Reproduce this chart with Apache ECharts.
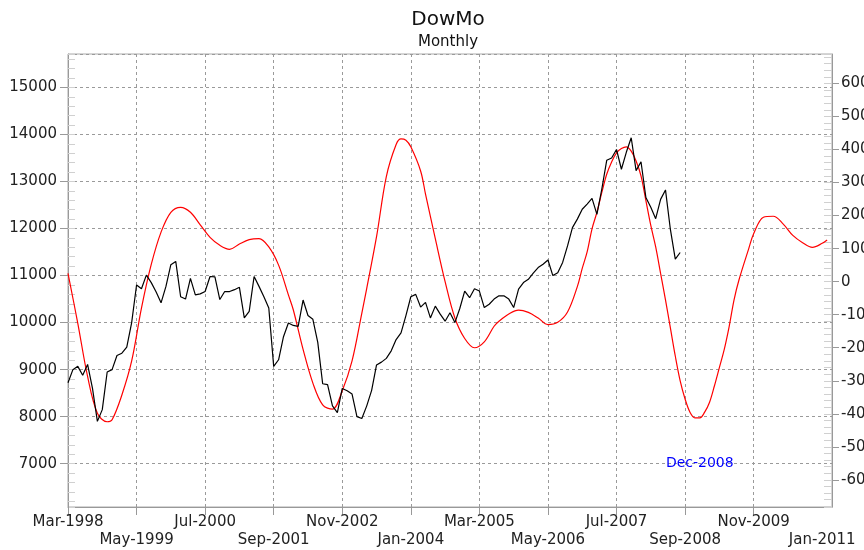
<!DOCTYPE html>
<html>
<head>
<meta charset="utf-8">
<script src="https://cdn.jsdelivr.net/npm/echarts@6/dist/echarts.min.js"></script>
<style>html,body{margin:0;padding:0;background:#fff;}#c{width:864px;height:550px;}</style>
</head>
<body>
<div id="c"></div>
<script>
// ---- data ----
const monthNames = ['Jan','Feb','Mar','Apr','May','Jun','Jul','Aug','Sep','Oct','Nov','Dec'];
const startYear = 1998, startMonth = 2, monthCount = 157; // Mar-1998 .. Mar-2011
const categories = [];
for (let k = 0; k < monthCount; k++) {
  const m = (startMonth + k) % 12, y = startYear + Math.floor((startMonth + k) / 12);
  categories.push(monthNames[m] + '-' + y);
}
const labelStep = 14; // a tick label every 14 months, alternating rows
const titleText = 'DowMo';
const subtitleText = 'Monthly';
const annotationText = 'Dec-2008';
const annotationValue = 7000;

// Dow monthly (left axis), Mar-1998 onward
const dowValues = [
 8720,9000,9070,8880,9110,8600,7900,8150,8950,9000,
 9300,9350,9480,10000,10800,10720,11010,10850,10650,10420,
 10770,11230,11300,10550,10500,10940,10590,10610,10660,10980,
 10970,10490,10660,10660,10700,10750,10100,10240,10980,10770,
 10550,10310,9070,9210,9700,9990,9940,9920,10480,10150,
 10070,9580,8700,8680,8230,8085,8600,8550,8480,8000,
 7960,8230,8560,9100,9160,9240,9400,9640,9780,10150,
 10550,10600,10330,10430,10100,10350,10180,10030,10210,10000,
 10300,10670,10530,10720,10670,10320,10390,10500,10570,10570,
 10500,10320,10710,10850,10920,11050,11170,11240,11330,11000,
 11060,11280,11630,12020,12200,12410,12520,12640,12300,12840,
 13450,13500,13680,13260,13620,13930,13230,13420,12660,12450,
 12210,12620,12820,11980,11350,11490
];

// Momentum oscillator (right axis): [month index, value]
const momentumPoints = [
 [0,25],[2,-126],[4,-287],[6,-398],[8,-424],[9,-418],[11,-343],[13,-240],[15,-80],[17,52],
 [19,150],[21,210],[23,225],[25,210],[27,172],[29,134],[31,110],[33,98],[35,114],[37,127],
 [39,130],[41,105],[43,50],[45,-40],[46,-85],[48,-205],[50,-307],[52,-373],[54,-386],[56,-330],
 [58,-240],[60,-95],[61,-20],[63,136],[65,318],[67,415],[68,432],[69,428],[70,408],[72,335],
 [73,265],[75,130],[77,0],[79,-110],[81,-172],[83,-200],[85,-182],[87,-135],[88,-120],[90,-98],
 [92,-86],[94,-93],[96,-110],[98,-130],[100,-123],[102,-92],[104,-15],[105,40],[106,90],[107,160],
 [108,210],[109,270],[110,325],[111,362],[112,390],[113,403],[114,408],[115,395],[116,365],[117,320],
 [118,245],[119,170],[120,105],[121,25],[122,-55],[123,-140],[124,-225],[125,-300],[126,-355],[127,-395],
 [128,-412],[129,-412],[130,-395],[131,-365],[132,-315],[133,-260],[134,-205],[135,-136],[136,-55],[137,5],
 [139,100],[140,145],[142,195],[144,198],[146,175],[148,140],[150,118],[152,104],[154,116],[155,126]
];

const leftMin = 6080, leftMax = 15710;
const rightMin = -682, rightMax = 689;

// ---- chart ----
const FONT = 'DejaVu Sans';
const chart = echarts.init(document.getElementById('c'), null, {renderer: 'canvas'});
const axisGray = '#999999';
const gridDash = {color: '#9a9a9a', type: [3, 3], width: 1};
const plain = function (v) { return String(v); };
const labelBase = {fontSize: 15, fontFamily: FONT, color: '#222', lineHeight: 15,
                   showMinLabel: true, showMaxLabel: true, hideOverlap: false};
// ticks and vertical grid lines at the labelled months, except the last one near the edge
const gridMonth = function (idx) { return idx % labelStep === 0 && idx + labelStep < monthCount; };

chart.setOption({
  animation: false,
  backgroundColor: '#ffffff',
  graphic: [
    {type: 'text', x: 448, y: 20, style: {text: titleText, align: 'center', verticalAlign: 'middle', fontSize: 20, fontFamily: FONT, fill: '#111'}},
    {type: 'text', x: 448, y: 42, style: {text: subtitleText, align: 'center', verticalAlign: 'middle', fontSize: 15, fontFamily: FONT, fill: '#111'}}
  ],
  grid: {left: 68, right: 32, top: 54, bottom: 43, show: true, borderColor: '#aaaaaa', borderWidth: 1,
         containLabel: false, outerBoundsMode: 'none'},
  xAxis: [
    { type: 'category', data: categories, boundaryGap: false, position: 'bottom',
      axisLine: {onZero: false, lineStyle: {color: axisGray}},
      axisTick: {show: true, interval: gridMonth, length: 8, lineStyle: {color: axisGray}},
      splitLine: {show: true, interval: gridMonth, lineStyle: gridDash},
      axisLabel: Object.assign({}, labelBase, {margin: 8,
        interval: function (idx) { return idx % (2 * labelStep) === 0; }}) },
    { type: 'category', data: categories, boundaryGap: false, position: 'bottom',
      axisLine: {show: false, onZero: false}, axisTick: {show: false}, splitLine: {show: false},
      axisLabel: Object.assign({}, labelBase, {margin: 26,
        interval: function (idx) { return idx % (2 * labelStep) === labelStep; }}) }
  ],
  yAxis: [
    { type: 'value', position: 'left', min: leftMin, max: leftMax, splitNumber: 10, minInterval: 1000, maxInterval: 1000,
      axisLine: {show: true, lineStyle: {color: axisGray}},
      axisTick: {show: true, length: 8, lineStyle: {color: axisGray}},
      axisLabel: {margin: 11, fontSize: 15, fontFamily: FONT, color: '#222', showMinLabel: false, showMaxLabel: false, formatter: plain},
      splitLine: {show: true, lineStyle: gridDash} },
    { type: 'value', position: 'right', min: rightMin, max: rightMax, splitNumber: 14, minInterval: 100, maxInterval: 100,
      axisLine: {show: true, lineStyle: {color: axisGray}},
      axisTick: {show: true, length: 7, lineStyle: {color: axisGray}},
      axisLabel: {margin: 9, fontSize: 15, fontFamily: FONT, color: '#222', showMinLabel: false, showMaxLabel: false, formatter: plain},
      splitLine: {show: false} },
    { type: 'value', position: 'left', min: leftMin, max: leftMax, minInterval: 200, maxInterval: 200, splitNumber: 48,
      axisLine: {show: false}, axisLabel: {show: false}, splitLine: {show: false},
      axisTick: {show: true, inside: true, length: 7, lineStyle: {color: '#d0d0d0'}} },
    { type: 'value', position: 'right', min: rightMin, max: rightMax, minInterval: 20, maxInterval: 20, splitNumber: 68,
      axisLine: {show: false}, axisLabel: {show: false}, splitLine: {show: false},
      axisTick: {show: true, inside: true, length: 8, lineStyle: {color: '#d0d0d0'}} }
  ],
  series: [
    { name: 'Momentum', type: 'line', xAxisIndex: 0, yAxisIndex: 1, data: momentumPoints, smooth: 0.35, showSymbol: false, symbol: 'none',
      lineStyle: {color: '#ff0000', width: 1.2}, z: 2 },
    { name: 'Dow', type: 'line', xAxisIndex: 0, yAxisIndex: 0, data: dowValues, showSymbol: false, symbol: 'none',
      lineStyle: {color: '#000000', width: 1.2}, z: 3,
      markPoint: { symbol: 'circle', symbolSize: 0, silent: true,
        data: [{coord: [annotationText, annotationValue]}],
        label: {show: true, position: 'inside', formatter: annotationText, color: '#0000ff', fontSize: 14, fontFamily: FONT} } }
  ]
});
</script>
</body>
</html>
